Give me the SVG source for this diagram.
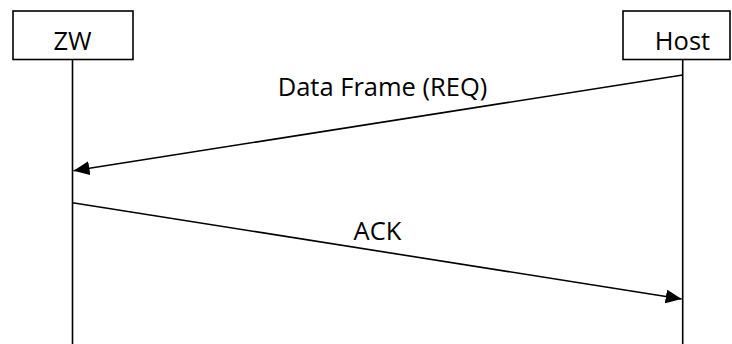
<svg xmlns="http://www.w3.org/2000/svg" width="732" height="344" viewBox="0 0 732 344">
<style>
.box{fill:#fff;stroke:#000;stroke-width:1.6}
.life{stroke:#000;stroke-width:1.6;fill:none}
.msg{stroke:#000;stroke-width:1.6;fill:none;marker-end:url(#ah)}
text{font-family:"Open Sans","Liberation Sans",sans-serif;font-size:25.5px;fill:#000;text-anchor:middle}
</style>
<defs>
<marker id="ah" markerUnits="userSpaceOnUse" markerWidth="18" markerHeight="14" refX="16" refY="7" orient="auto">
<path d="M0,0 L16,7 L0,14 Z" fill="#000"/>
</marker>
</defs>
<g id="zw">
<rect class="box" x="13" y="11" width="120" height="48.5"/>
<text x="72.5" y="49.5">ZW</text>
<line class="life" x1="72.5" y1="59.5" x2="72.5" y2="344"/>
</g>
<g id="host">
<rect class="box" x="623" y="11" width="107" height="48.5"/>
<text x="682.5" y="49.5">Host</text>
<line class="life" x1="682.7" y1="59.5" x2="682.7" y2="344"/>
</g>
<g id="connectors">
<line class="msg" x1="682.7" y1="75" x2="73.5" y2="170.7"/>
<text x="382.5" y="96">Data Frame (REQ)</text>
<line class="msg" x1="72.5" y1="202.7" x2="681.7" y2="299"/>
<text x="377.5" y="240">ACK</text>
</g>
</svg>
